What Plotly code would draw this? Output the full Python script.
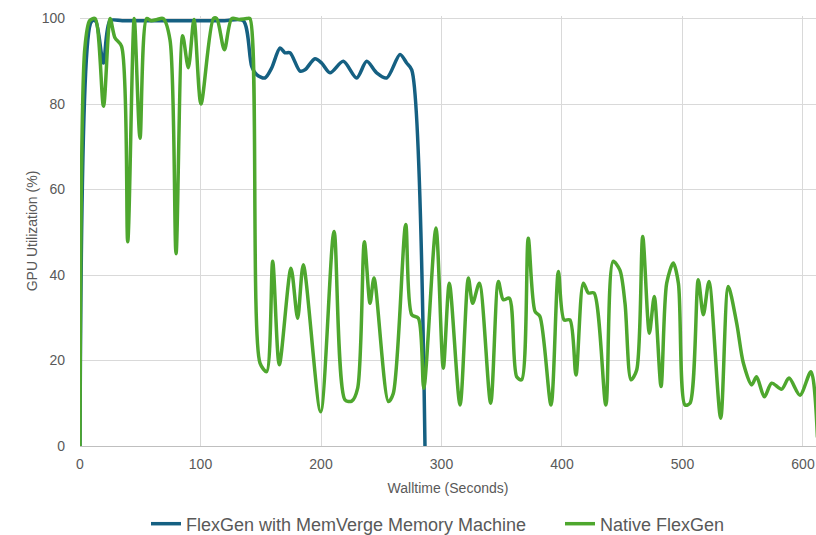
import plotly.graph_objects as go

# Native FlexGen (green)
native_t = [0, 4, 8, 12.5, 19.5, 25, 29, 34.5, 39.6, 45, 49.8, 55.3, 59, 64, 69, 74.7, 79.7,
            85.2, 89.9, 94.6, 100.4, 110.7, 113.5, 119.8, 125.9, 132, 138.3, 141, 149.4, 154.9,
            159.9, 165.4, 175.1, 180.6, 185.3, 199.7, 210.8, 219.9, 225.5, 230.4, 236, 240.7,
            244, 255.9, 260, 270.3, 275.3, 280.8, 285.3, 295.4, 301.5, 306.5, 315.4, 322.3,
            325.9, 331.4, 340.8, 347.2, 351.3, 356.3, 362.4, 366.5, 372, 377.6, 381.7, 390.9,
            397, 401.7, 406.6, 411.6, 417.7, 421.9, 426.6, 436.4, 442.4, 448, 452.3, 457.3,
            462, 467, 472.5, 476.6, 482.2, 486.9, 492.4, 496.6, 502.1, 506.2, 513.1, 517.3,
            522, 531.7, 538, 545, 550.5, 557.4, 561.5, 567.9, 574, 582.3, 588.4, 597.5, 606.6,
            612]
native_v = [0, 93, 99.5, 100, 79.5, 100, 95.5, 93.5, 47.8, 100, 72, 100, 99.5, 99.8, 100, 95,
            45, 96, 88.5, 99.8, 80, 100, 100, 92.7, 100, 99.8, 100, 100, 19.4, 17.4,
            43.2, 19, 41.6, 29.9, 42.4, 8, 50.2, 10.8, 10.5, 13.5, 47.8, 33.4,
            39.3, 10.4, 12.3, 51.8, 30.7, 29.9, 13.5, 51, 18.2, 38.1, 9.6, 39.3,
            33.4, 38.1, 10, 38.5, 34.2, 34.6, 16.2, 15.5, 48.6, 31.5, 30.3, 9.6,
            40.8, 29.5, 29.5, 16.6, 38.1, 35.8, 35.8, 9.6, 43.2, 41.2, 33.4, 15.5,
            17.8, 49, 26.4, 35, 13.9, 38.1, 42.8, 38.1, 9.6, 10, 38.9, 30.7,
            38.5, 6.5, 37.3, 28.7, 19.4, 14.3, 16.2, 11.5, 14.7, 13.3, 15.9, 11.9, 17.4,
            2]

# FlexGen with MemVerge Memory Machine (blue)
memverge_t = [0, 9.7, 13, 19.4, 24.9, 35, 60, 90, 120, 135.5, 142.5, 146.6, 153.5, 159, 166,
              170.1, 174.3, 182.6, 186.7, 195, 200.5, 207.5, 218.5, 229.6, 237.9, 246.2,
              254.5, 265.6, 271.1, 275.3, 286.3]
memverge_v = [0, 99.4, 99.4, 89.6, 99.5, 99.5, 99.5, 99.5, 99.5, 99.5, 88.8, 86.9, 86.1, 88.4,
              93.1, 92, 92, 87.7, 88, 90.6, 89.6, 87.3, 90, 86.1, 90, 87.3,
              86.1, 91.6, 89.6, 88, 0]

x_ticks = [0, 100, 200, 300, 400, 500, 600]
y_ticks = [0, 20, 40, 60, 80, 100]

BLUE = "#156082"
GREEN = "#4EA72E"
TXT = "#595959"
GRID = "#D9D9D9"
FONT = "Liberation Sans, Arial, sans-serif"

fig = go.Figure()
fig.add_trace(go.Scatter(x=memverge_t, y=memverge_v, mode="lines",
                         name="FlexGen with MemVerge Memory Machine", legend="legend",
                         line=dict(color=BLUE, width=3.5, shape="spline", smoothing=0.8)))
fig.add_trace(go.Scatter(x=native_t, y=native_v, mode="lines",
                         name="Native FlexGen", legend="legend2",
                         line=dict(color=GREEN, width=3.5, shape="spline", smoothing=0.8)))

leg_common = dict(orientation="h", xref="container", yref="container",
                  y=1 - 524 / 535, yanchor="middle", xanchor="left",
                  font=dict(family=FONT, size=18, color=TXT),
                  itemwidth=30, bgcolor="rgba(0,0,0,0)")

fig.update_layout(
    width=816, height=535,
    autosize=False,
    margin=dict(l=80, r=0, t=16, b=89, autoexpand=False),
    paper_bgcolor="white", plot_bgcolor="white",
    font=dict(family=FONT, color=TXT, size=14),
    showlegend=True,
    legend=dict(leg_common, x=146 / 816),
    legend2=dict(leg_common, x=560 / 816),
    xaxis=dict(range=[0, 610.8], tickvals=x_ticks, showgrid=True, gridcolor=GRID, gridwidth=1,
               zeroline=False, showline=True, linecolor="#BFBFBF", linewidth=1,
               ticks="", ticklabelstandoff=5, automargin=False,
               title=dict(text="Walltime (Seconds)", standoff=12,
                          font=dict(family=FONT, size=14, color=TXT))),
    yaxis=dict(range=[0, 100.6], tickvals=y_ticks, showgrid=True, gridcolor=GRID, gridwidth=1,
               zeroline=False, showline=False, ticks="", ticklabelstandoff=14, automargin=False,
               title=dict(text="GPU Utilization (%)", standoff=0,
                          font=dict(family=FONT, size=14, color=TXT))),
)

fig.write_html("out.html", config={"displayModeBar": False},
               post_script="document.body.style.margin='0';document.body.style.overflow='hidden';")
